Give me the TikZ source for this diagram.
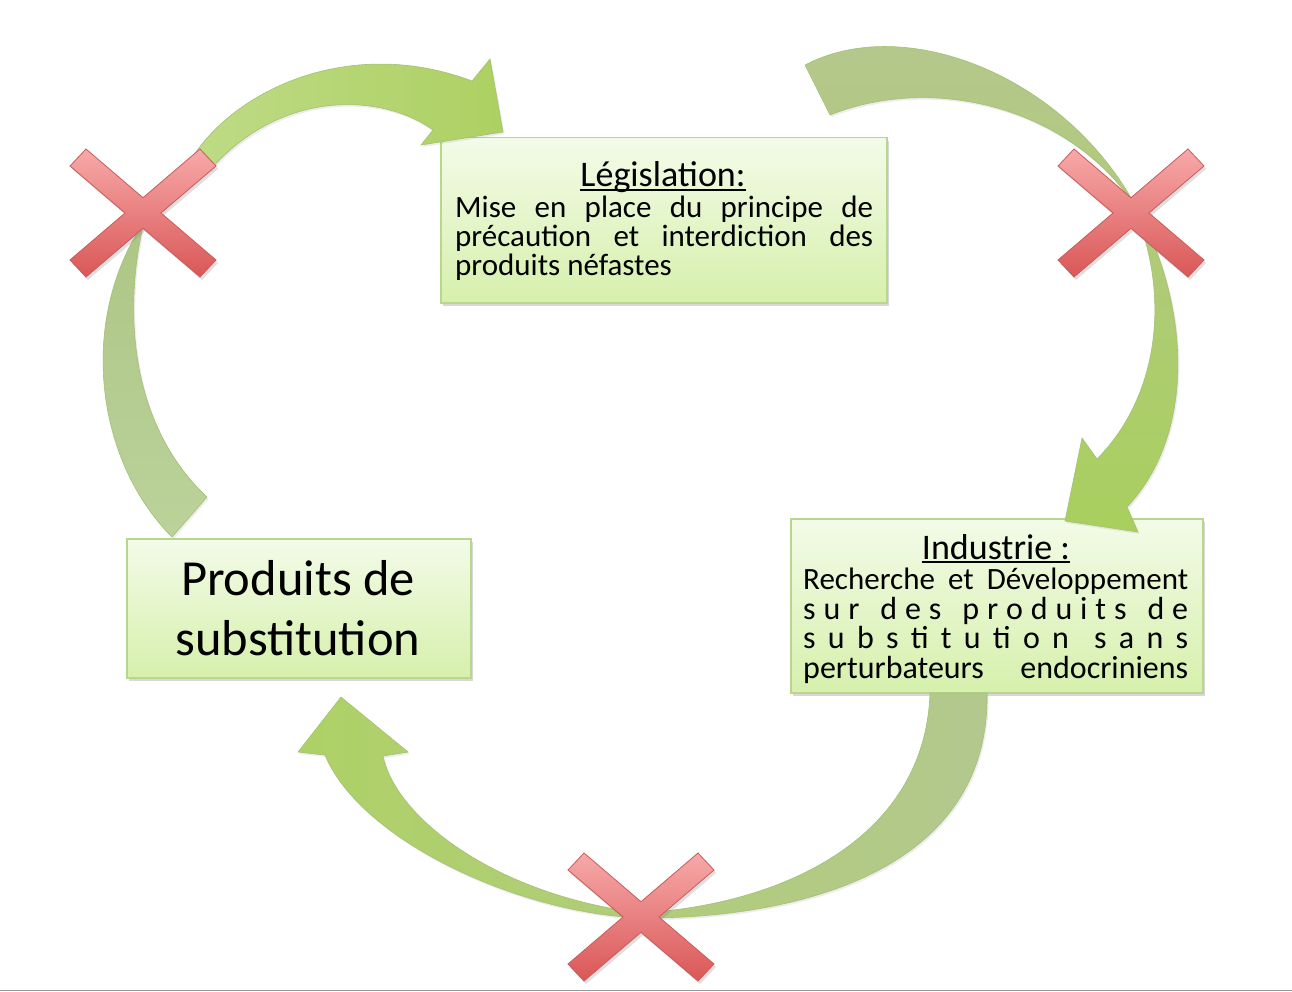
\documentclass[tikz,border=0pt]{standalone}
\usepackage{fontspec}
\setmainfont{Carlito}
\usetikzlibrary{shadows}
\definecolor{boxtop}{HTML}{F3FBE8}
\definecolor{boxbot}{HTML}{D6F0AC}
\definecolor{boxline}{HTML}{B9D68F}
\definecolor{crosstop}{HTML}{F7A9A9}
\definecolor{crossbot}{HTML}{DA5757}
\definecolor{crossline}{HTML}{C95B5B}
\definecolor{gAa}{HTML}{BEDB86}
\definecolor{gAb}{HTML}{ADD062}
\definecolor{gBa}{HTML}{B5C78F}
\definecolor{gBb}{HTML}{A9CF5E}
\definecolor{gCa}{HTML}{B3C88E}
\definecolor{gCb}{HTML}{AED166}
\definecolor{gDa}{HTML}{ADC685}
\definecolor{gDb}{HTML}{BBD29A}
\definecolor{arrowline}{HTML}{A3C173}
\newcommand\myul[1]{\sbox0{#1}\rlap{\rule[-3.6pt]{\wd0}{1.8pt}}\box0}
\newcommand\wg{\hfill\hskip 13pt}
\begin{document}
\begin{tikzpicture}[x=1pt,y=-1pt,
  box/.style={draw=boxline, line width=1.5pt, top color=boxtop, bottom color=boxbot,
    inner sep=0pt, anchor=north west,
    drop shadow={shadow xshift=2pt, shadow yshift=-3pt, opacity=0.3}},
  crossshape/.style={draw=crossline, line width=0.8pt, top color=crosstop, bottom color=crossbot,
    drop shadow={shadow xshift=2pt, shadow yshift=-3pt, opacity=0.25}},
  arrowshape/.style={draw=arrowline, line width=0.6pt,
    drop shadow={shadow xshift=1.5pt, shadow yshift=-2pt, opacity=0.15}},
  bodytext/.style={font=\fontsize{31}{31}\selectfont, anchor=base west, inner sep=0pt},
  indtext/.style={font=\fontsize{32}{32}\selectfont, anchor=base west, inner sep=0pt},
  titletext/.style={font=\fontsize{36}{36}\selectfont, anchor=base, inner sep=0pt},
  bigtext/.style={font=\fontsize{50.5}{60}\selectfont, anchor=base, inner sep=0pt},
  xmark/.pic={\path[crossshape] (-73,-47) -- (-57,-64) -- (0,-15.3) -- (57,-64) -- (73,-47)
     -- (18,0) -- (73,47) -- (57,64) -- (0,15.3) -- (-57,64) -- (-73,47) -- (-18,0) -- cycle;}
]
\useasboundingbox (0,0) rectangle (1292,992);
\fill[white] (0,0) rectangle (1292,992);

% boxes
\node[box, minimum width=446pt, minimum height=165pt] (leg) at (440,137) {};
\node[box, minimum width=412pt, minimum height=174pt] (ind) at (790,518) {};
\node[box, minimum width=344pt, minimum height=139pt] (prod) at (126,538) {};

% texts
\node[titletext] (legT) at (663,187) {\myul{Législation:}};
\node[bodytext] (leg1) at (455,217.5) {\hbox to 418pt{Mise\hfill en\hfill place\hfill du\hfill principe\hfill de}};
\node[bodytext] (leg2) at (455,247) {\hbox to 418pt{précaution\hfill et\hfill interdiction\hfill des}};
\node[bodytext] (leg3) at (455,276) {produits néfastes};

\node[titletext] (indT) at (996,559) {\myul{Industrie :}};
\node[bodytext] (ind1) at (803,589) {\hbox to 385pt{Recherche\hfill et\hfill Développement}};
\node[indtext] (ind2) at (803,619) {\hbox to 385pt{s\hfill u\hfill r\wg d\hfill e\hfill s\wg p\hfill r\hfill o\hfill d\hfill u\hfill i\hfill t\hfill s\wg d\hfill e}};
\node[indtext] (ind3) at (803,648.5) {\hbox to 385pt{s\hfill u\hfill b\hfill s\hfill ti\hfill t\hfill u\hfill ti\hfill o\hfill n\wg s\hfill a\hfill n\hfill s}};
\node[indtext] (ind4) at (803,678) {\hbox to 385pt{perturbateurs\hfill endocriniens}};

\node[bigtext] (prod1) at (298,595) {Produits de};
\node[bigtext] (prod2) at (298,655) {substitution};

% arrows
\path[arrowshape, left color=gAa, right color=gAb]
  (192,158) .. controls (235,90) and (350,35) .. (472,81)
  -- (490,59) -- (503,132) -- (421,145) -- (433,130)
  .. controls (380,92) and (280,90) .. (210,170) -- cycle;

\path[arrowshape, top color=gBa, bottom color=gBb]
  (805,65) .. controls (900,15) and (1050,70) .. (1125,188)
  .. controls (1190,290) and (1200,430) .. (1127,507)
  -- (1138,532) -- (1065,521) -- (1082,438) -- (1097,459)
  .. controls (1165,390) and (1170,280) .. (1128,196)
  .. controls (1060,105) and (930,75) .. (830,115) -- cycle;

\path[arrowshape, left color=gCb, right color=gCa]
  (987,693) .. controls (990,870) and (800,918) .. (645,918)
  .. controls (520,915) and (360,840) .. (325,755)
  -- (298,752) -- (341,697) -- (408,752) -- (383,756)
  .. controls (395,815) and (490,893) .. (640,913)
  .. controls (780,905) and (925,840) .. (930,693) -- cycle;

\path[arrowshape, top color=gDa, bottom color=gDb]
  (172,537) .. controls (95,460) and (78,320) .. (144,222)
  .. controls (125,300) and (125,420) .. (207,497) -- cycle;

% crosses
\pic at (143,213) {xmark};
\pic at (1131,213) {xmark};
\pic at (641,917) {xmark};

% bottom rule
\draw[gray!80, line width=1.5pt] (0,990.5) -- (1292,990.5);
\end{tikzpicture}
\end{document}
